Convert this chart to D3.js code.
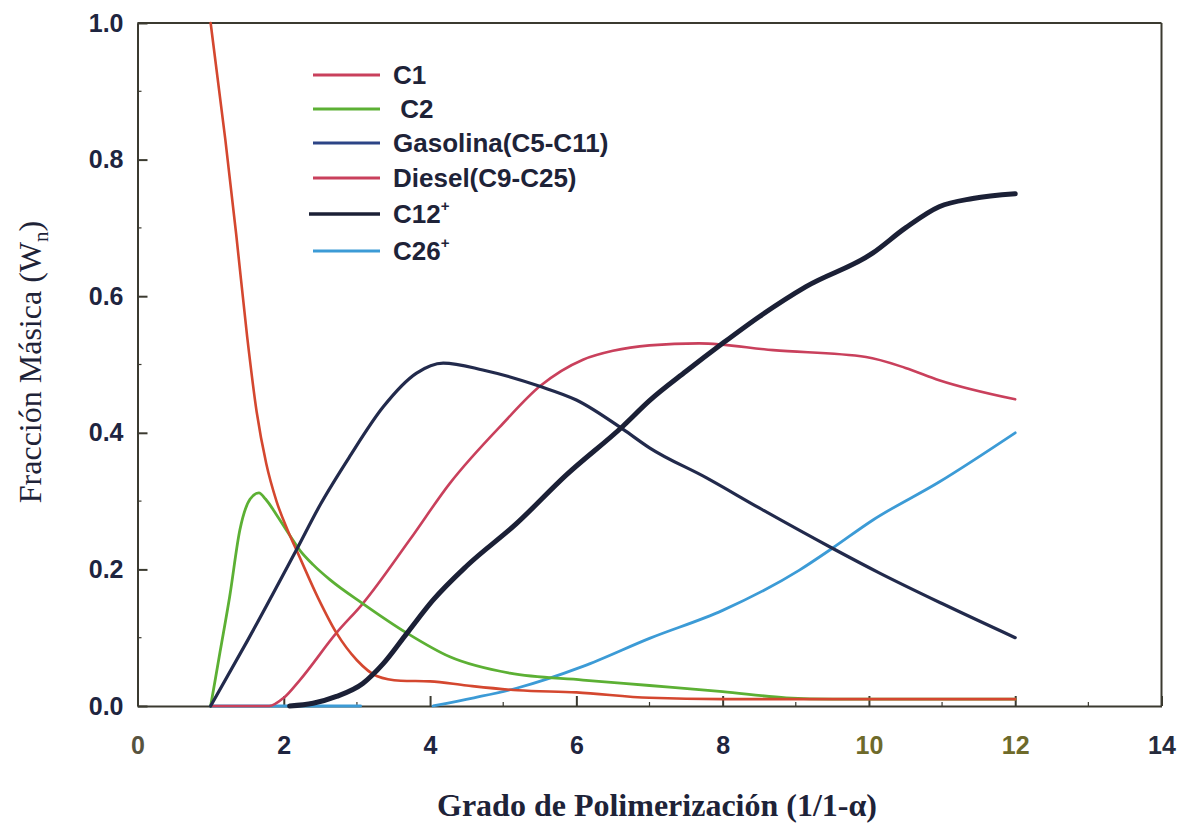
<!DOCTYPE html>
<html>
<head>
<meta charset="utf-8">
<script src="https://cdn.jsdelivr.net/npm/d3@7"></script>
<style>
  html, body { margin: 0; padding: 0; background: #ffffff; }
  svg { display: block; }
</style>
</head>
<body>
<svg id="chart" width="1179" height="824"></svg>
<script>
// Mass fraction of each product cut versus degree of polymerisation.
const seriesNames = ["C1", " C2", "Gasolina(C5-C11)", "Diesel(C9-C25)", "C12", "C26"];
const seriesSup = ["", "", "", "", "+", "+"];
const seriesColors = ["#d4472f", "#5cb034", "#222a4c", "#c9405c", "#1b2036", "#3c9bd6"];
const legendColors = ["#c9405c", "#5cb034", "#2c4486", "#c9405c", "#1b2036", "#3c9bd6"];
const seriesWidths = [2.6, 2.8, 3.2, 2.6, 5, 2.8];

const c1 = [[1,1.0],[1.2,0.83],[1.35,0.69],[1.5,0.54],[1.63,0.43],[1.76,0.355],[1.9,0.3],
  [2.05,0.258],[2.2,0.222],[2.47,0.158],[2.72,0.107],[3.0,0.067],[3.27,0.044],[3.6,0.037],
  [4.0,0.036],[4.5,0.03],[5.2,0.023],[6,0.02],[7,0.012],[8,0.01],[9,0.01],[10,0.01],[11,0.01],[12,0.01]];
const c2 = [[1,0],[1.13,0.08],[1.26,0.16],[1.4,0.258],[1.54,0.303],[1.66,0.312],[1.75,0.303],
  [1.9,0.28],[2.05,0.255],[2.22,0.228],[2.4,0.207],[2.63,0.185],[3.08,0.15],[3.68,0.107],
  [4.27,0.072],[5.09,0.048],[6.09,0.038],[7,0.03],[8,0.021],[8.87,0.012],[9.5,0.01],[10,0.01],
  [11,0.01],[12,0.01]];
const gasolina = [[1,0],[1.5,0.095],[2.17,0.228],[2.5,0.295],[2.9,0.365],[3.36,0.438],[3.81,0.487],
  [4.18,0.502],[4.72,0.492],[5.5,0.468],[6.0,0.448],[6.64,0.405],[7.0,0.378],[7.78,0.334],
  [8.5,0.29],[9.5,0.231],[10.14,0.195],[11,0.15],[12,0.1]];
const diesel = [[1,0],[1.8,0],[2.0,0.012],[2.22,0.038],[2.72,0.107],[3.08,0.15],[3.72,0.243],
  [4.27,0.326],[5.0,0.414],[5.5,0.468],[6.09,0.507],[6.5,0.52],[7.0,0.528],[7.68,0.531],
  [8.69,0.521],[9.96,0.511],[10.5,0.495],[10.96,0.477],[12.0,0.449]];
const c12 = [[2.08,0],[2.4,0.004],[2.72,0.014],[3.08,0.033],[3.36,0.062],[3.68,0.106],[4.04,0.155],
  [4.5,0.205],[5.18,0.267],[5.86,0.338],[6.64,0.41],[7.0,0.447],[7.5,0.49],[8.0,0.531],
  [8.5,0.57],[9.14,0.614],[10.05,0.663],[10.5,0.7],[10.96,0.731],[11.42,0.743],[12.0,0.75]];
const c26 = [[1,0],[2,0],[3.05,0],[3.5,null],[4.04,0],[4.6,0.012],[5.18,0.026],[6.09,0.058],
  [7.0,0.099],[8.0,0.14],[9.05,0.199],[9.5,0.231],[10.05,0.272],[10.96,0.328],[12.0,0.4]];

const seriesData = [c1, c2, gasolina, diesel, c12, c26];
const drawOrder = [5, 3, 1, 0, 2, 4];

const xTicks = [0, 2, 4, 6, 8, 10, 12, 14];
const yTicks = [0, 0.2, 0.4, 0.6, 0.8, 1.0];
const xTickColors = ["#57533f", "#1e2540", "#1e2540", "#1e2540", "#1e2540", "#6e6a2a", "#6e6a2a", "#262b3c"];

const svg = d3.select("#chart");
const plotLeft = 137.5, plotRight = 1161.5, plotTop = 23, plotBottom = 706;

const x = d3.scaleLinear().domain([0, 14]).range([plotLeft, plotRight]);
const y = d3.scaleLinear().domain([0, 1]).range([plotBottom, plotTop]);

const frameColor = "#3b3a30";

// minor ticks
svg.append("g").selectAll("line").data(d3.range(0.1, 1, 0.2)).join("line")
  .attr("x1", plotLeft).attr("x2", plotLeft + 4)
  .attr("y1", d => y(d)).attr("y2", d => y(d))
  .attr("stroke", frameColor).attr("stroke-width", 1.2);
svg.append("g").selectAll("line").data(d3.range(1, 14, 2)).join("line")
  .attr("x1", d => x(d)).attr("x2", d => x(d))
  .attr("y1", plotBottom).attr("y2", plotBottom - 4)
  .attr("stroke", frameColor).attr("stroke-width", 1.2);

// axes
const xAxis = svg.append("g").attr("transform", `translate(0,${plotBottom})`)
  .call(d3.axisBottom(x).tickValues(xTicks).tickFormat(d3.format("d"))
    .tickSizeInner(-10).tickSizeOuter(0).tickPadding(30));
const yAxis = svg.append("g").attr("transform", `translate(${plotLeft},0)`)
  .call(d3.axisLeft(y).tickValues(yTicks).tickFormat(d3.format(".1f"))
    .tickSizeInner(-10).tickSizeOuter(0).tickPadding(14));

[xAxis, yAxis].forEach(g => {
  g.select(".domain").attr("stroke", frameColor).attr("stroke-width", 2);
  g.selectAll(".tick line").attr("stroke", frameColor).attr("stroke-width", 2);
  g.selectAll(".tick text")
    .attr("font-family", "'Liberation Sans', Arial, sans-serif")
    .attr("font-weight", "bold")
    .attr("font-size", 25)
    .attr("fill", "#1e2540");
});
xAxis.selectAll(".tick text").attr("fill", (d, i) => xTickColors[i]);

// top and right frame
svg.append("line").attr("x1", plotLeft).attr("x2", plotRight).attr("y1", plotTop).attr("y2", plotTop)
  .attr("stroke", frameColor).attr("stroke-width", 2);
svg.append("line").attr("x1", plotRight).attr("x2", plotRight).attr("y1", plotTop).attr("y2", plotBottom)
  .attr("stroke", frameColor).attr("stroke-width", 2);

// series lines
const line = d3.line()
  .defined(d => d[1] !== null)
  .x(d => x(d[0])).y(d => y(d[1]))
  .curve(d3.curveMonotoneX);

drawOrder.forEach(i => {
  svg.append("path")
    .datum(seriesData[i])
    .attr("d", line)
    .attr("fill", "none")
    .attr("stroke", seriesColors[i])
    .attr("stroke-width", seriesWidths[i])
    .attr("stroke-linejoin", "round")
    .attr("stroke-linecap", "round");
});

// legend
const legend = svg.append("g");
const rowY = [75, 109, 143, 178, 214, 251];
seriesNames.forEach((name, i) => {
  legend.append("line")
    .attr("x1", i === 4 ? 309 : 313).attr("x2", 380)
    .attr("y1", rowY[i]).attr("y2", rowY[i])
    .attr("stroke", legendColors[i])
    .attr("stroke-width", i === 4 ? 3.5 : 3);
  const t = legend.append("text")
    .attr("x", 393).attr("y", rowY[i] + 9)
    .attr("font-family", "'Liberation Sans', Arial, sans-serif")
    .attr("font-weight", "bold")
    .attr("font-size", 26)
    .attr("fill", "#1e2338")
    .attr("xml:space", "preserve")
    .text(name);
  if (seriesSup[i]) {
    t.append("tspan").attr("dy", -12).attr("font-size", 15).text(seriesSup[i]);
  }
});

// axis titles
const yTitle = svg.append("text")
  .attr("transform", "translate(41,362) rotate(-90)")
  .attr("text-anchor", "middle")
  .attr("font-family", "'Liberation Serif', 'Times New Roman', serif")
  .attr("font-size", 32)
  .attr("fill", "#1e2338");
yTitle.append("tspan").text("Fracción Másica (W");
yTitle.append("tspan").attr("dy", 7).attr("font-size", 21).text("n");
yTitle.append("tspan").attr("dy", -7).text(")");

svg.append("text")
  .attr("x", 657).attr("y", 816)
  .attr("text-anchor", "middle")
  .attr("font-family", "'Liberation Serif', 'Times New Roman', serif")
  .attr("font-weight", "bold")
  .attr("font-size", 32)
  .attr("fill", "#1e2338")
  .text("Grado de Polimerización (1/1-α)");
</script>
</body>
</html>
